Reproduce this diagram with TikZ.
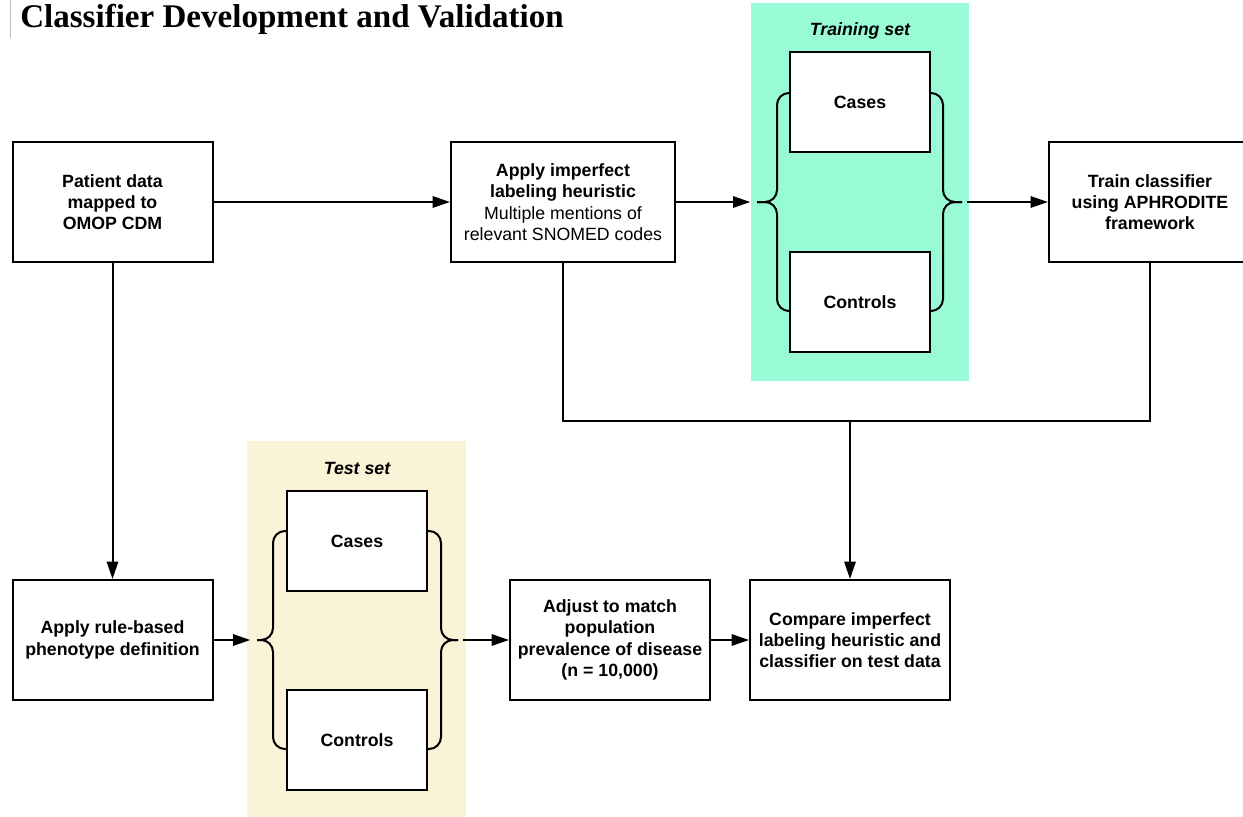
\documentclass[tikz,border=0pt]{standalone}
\usepackage{fontspec}
\setmainfont{Liberation Sans}
\newfontfamily\ttlfont{Liberation Serif}
\usetikzlibrary{arrows.meta}
\definecolor{mint}{RGB}{153,251,214}
\definecolor{cream}{RGB}{250,243,216}
\begin{document}
\begin{tikzpicture}[x=0.75pt,y=-0.75pt,
  box/.style={draw, line width=1.5pt, fill=white, align=center, inner sep=0pt,
    font=\fontsize{13.3}{16}\selectfont\bfseries, minimum width=150pt, minimum height=90pt},
  smallbox/.style={box, minimum width=105pt, minimum height=75pt},
  ln/.style={line width=1.5pt},
  arr/.style={ln, -{Triangle[length=13pt,width=8.5pt]}},
  bracepath/.style={ln, rounded corners=9pt},
  setlabel/.style={font=\fontsize{13.3}{16}\selectfont\bfseries\itshape}]
\useasboundingbox (0,0) rectangle (1243,817);
\fill[white] (0,0) rectangle (1243,817);

% title
\draw[black!25, line width=0.75pt] (10,0) -- (10,38);
\node[anchor=base west, inner sep=0pt, font=\ttlfont\fontsize{24.8}{28}\selectfont\bfseries] (title) at (20,28) {Classifier Development and Validation};

% backgrounds
\fill[mint] (751,3) rectangle (969,381);
\fill[cream] (247,441) rectangle (466,817);
\node[setlabel] (trlabel) at (860,31) {Training set};
\node[setlabel] (telabel) at (357,468) {Test set};

% brace tips
\coordinate (trtipL) at (757,202);
\coordinate (trtipR) at (962,202);
\coordinate (tetipL) at (257,640);
\coordinate (tetipR) at (458,640);
\coordinate (jn) at (850,421);

% braces (training)
\draw[bracepath] (790,93) -- (777,93) -- (777,202) -- (trtipL);
\draw[bracepath] (790,311) -- (777,311) -- (777,202) -- (trtipL);
\draw[bracepath] (930,93) -- (943,93) -- (943,202) -- (trtipR);
\draw[bracepath] (930,311) -- (943,311) -- (943,202) -- (trtipR);
% braces (test)
\draw[bracepath] (287,531) -- (273,531) -- (273,640) -- (tetipL);
\draw[bracepath] (287,749) -- (273,749) -- (273,640) -- (tetipL);
\draw[bracepath] (427,531) -- (441,531) -- (441,640) -- (tetipR);
\draw[bracepath] (427,749) -- (441,749) -- (441,640) -- (tetipR);

% nodes
\node[box] (A) at (112.5,202) {Patient data\\mapped to\\OMOP CDM};
\node[box, minimum width=168pt] (B) at (563,202) {Apply imperfect\\labeling heuristic\\\mdseries Multiple mentions of\\\mdseries relevant SNOMED codes};
\node[box, minimum width=151.5pt] (C) at (1150,202) {Train classifier\\using APHRODITE\\framework};
\node[smallbox] (trcases) at (860,102) {Cases};
\node[smallbox] (trctrl) at (860,302) {Controls};

\node[box] (D) at (112.5,640) {Apply rule-based\\phenotype definition};
\node[smallbox] (tecases) at (357,541) {Cases};
\node[smallbox] (tectrl) at (357,740) {Controls};
\node[box] (E) at (610,640) {Adjust to match\\population\\prevalence of disease\\(n = 10,000)};
\node[box] (F) at (850,640) {Compare imperfect\\labeling heuristic and\\classifier on test data};

% connectors
\draw[arr] (A.east) -- (B.west);
\draw[arr, shorten >=5pt] (B.east) -- (trtipL);
\draw[arr, shorten <=3.75pt] (trtipR) -- (C.west);
\draw[ln] (B.south) |- (jn) -| (C.south);
\draw[arr] (jn) -- (F.north);
\draw[arr] (A.south) -- (D.north);
\draw[arr, shorten >=5pt] (D.east) -- (tetipL);
\draw[arr, shorten <=3.75pt] (tetipR) -- (E.west);
\draw[arr] (E.east) -- (F.west);
\end{tikzpicture}
\end{document}
